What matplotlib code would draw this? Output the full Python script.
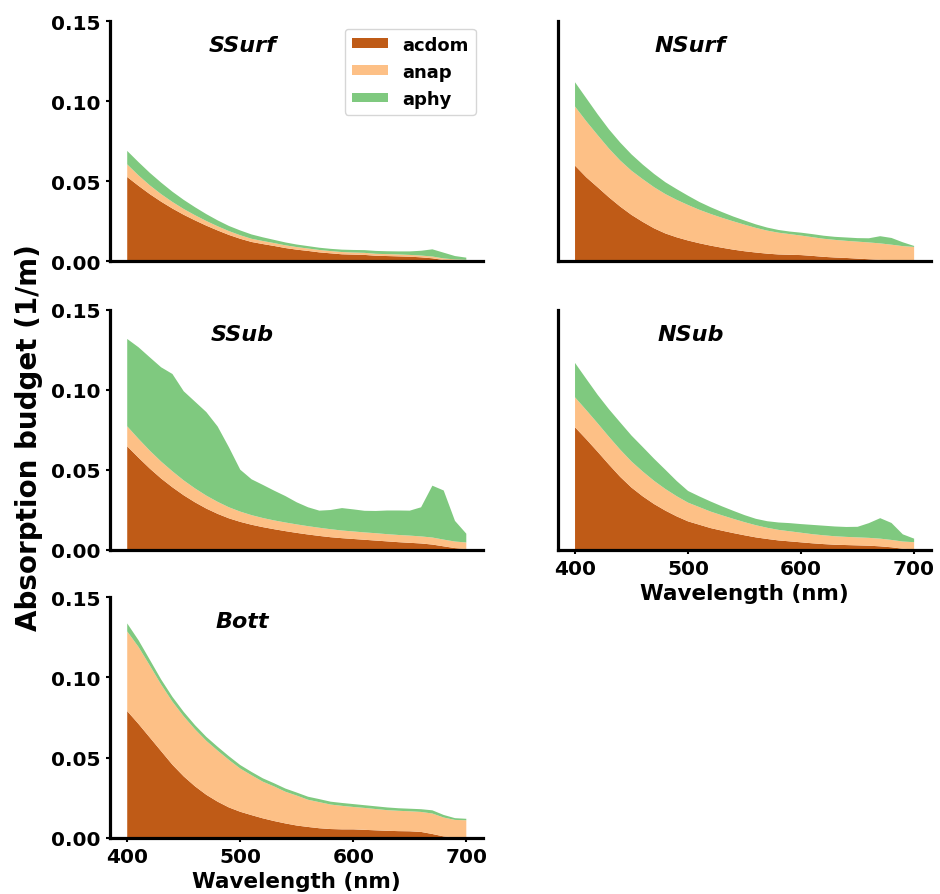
import matplotlib
matplotlib.use('Agg')
import matplotlib.pyplot as plt
import numpy as np

plt.rcParams['font.family'] = ['DejaVu Sans']
plt.rcParams['font.weight'] = 'bold'

# ---- data (10 nm steps) ----
wavelength = np.arange(400, 701, 10)

ssurf_acdom = [0.0527, 0.0472, 0.0420, 0.0373, 0.0330, 0.0291, 0.0256, 0.0223, 0.0193, 0.0165, 0.0141,
               0.0121, 0.0108, 0.0096, 0.0083, 0.0073, 0.0065, 0.0056, 0.0050, 0.0044, 0.0042,
               0.0040, 0.0035, 0.0033, 0.0031, 0.0029, 0.0025, 0.0019, 0.0008, 0.0002, 0.0000]
ssurf_anap = [0.0079, 0.0065, 0.0055, 0.0047, 0.0041, 0.0036, 0.0032, 0.0029, 0.0026, 0.0024, 0.0022,
              0.0020, 0.0019, 0.0018, 0.0017, 0.0016, 0.0015, 0.0015, 0.0014, 0.0014, 0.0013,
              0.0013, 0.0012, 0.0012, 0.0012, 0.0011, 0.0011, 0.0011, 0.0010, 0.0010, 0.0010]
ssurf_aphy = [0.0084, 0.0083, 0.0078, 0.0072, 0.0064, 0.0057, 0.0050, 0.0043, 0.0037, 0.0032, 0.0030,
              0.0027, 0.0023, 0.0020, 0.0018, 0.0016, 0.0015, 0.0014, 0.0014, 0.0015, 0.0016,
              0.0017, 0.0018, 0.0018, 0.0019, 0.0022, 0.0030, 0.0045, 0.0036, 0.0021, 0.0013]

nsurf_acdom = [0.0598, 0.0525, 0.0463, 0.0400, 0.0342, 0.0290, 0.0246, 0.0206, 0.0174, 0.0150, 0.0130,
               0.0113, 0.0098, 0.0085, 0.0073, 0.0063, 0.0055, 0.0048, 0.0043, 0.0041, 0.0039,
               0.0034, 0.0028, 0.0024, 0.0021, 0.0017, 0.0013, 0.0009, 0.0005, 0.0002, 0.0000]
nsurf_anap = [0.0369, 0.0350, 0.0326, 0.0305, 0.0288, 0.0276, 0.0267, 0.0257, 0.0246, 0.0234, 0.0222,
              0.0209, 0.0198, 0.0187, 0.0177, 0.0166, 0.0154, 0.0144, 0.0136, 0.0129, 0.0122,
              0.0117, 0.0113, 0.0110, 0.0107, 0.0106, 0.0105, 0.0103, 0.0099, 0.0093, 0.0090]
nsurf_aphy = [0.0152, 0.0144, 0.0130, 0.0120, 0.0112, 0.0102, 0.0091, 0.0083, 0.0074, 0.0067, 0.0058,
              0.0049, 0.0042, 0.0036, 0.0030, 0.0026, 0.0022, 0.0019, 0.0017, 0.0016, 0.0018,
              0.0019, 0.0019, 0.0019, 0.0021, 0.0022, 0.0026, 0.0045, 0.0042, 0.0024, 0.0006]

ssub_acdom = [0.0646, 0.0575, 0.0507, 0.0445, 0.0390, 0.0340, 0.0296, 0.0257, 0.0224, 0.0196, 0.0174,
              0.0156, 0.0141, 0.0128, 0.0116, 0.0105, 0.0095, 0.0086, 0.0078, 0.0072, 0.0067,
              0.0062, 0.0057, 0.0052, 0.0047, 0.0043, 0.0039, 0.0032, 0.0021, 0.0010, 0.0004]
ssub_anap = [0.0125, 0.0118, 0.0112, 0.0106, 0.0100, 0.0093, 0.0087, 0.0081, 0.0075, 0.0069, 0.0064,
             0.0060, 0.0057, 0.0055, 0.0054, 0.0053, 0.0052, 0.0051, 0.0050, 0.0048, 0.0047,
             0.0046, 0.0046, 0.0045, 0.0045, 0.0045, 0.0044, 0.0044, 0.0042, 0.0041, 0.0041]
ssub_aphy = [0.0546, 0.0572, 0.0583, 0.0589, 0.0608, 0.0557, 0.0542, 0.0522, 0.0471, 0.0375, 0.0262,
             0.0224, 0.0207, 0.0186, 0.0165, 0.0138, 0.0118, 0.0107, 0.0120, 0.0140, 0.0138,
             0.0135, 0.0139, 0.0148, 0.0153, 0.0156, 0.0182, 0.0324, 0.0307, 0.0129, 0.0055]

nsub_acdom = [0.0765, 0.0690, 0.0612, 0.0532, 0.0455, 0.0388, 0.0333, 0.0285, 0.0244, 0.0208, 0.0177,
              0.0156, 0.0135, 0.0119, 0.0104, 0.0090, 0.0077, 0.0067, 0.0058, 0.0052, 0.0046,
              0.0040, 0.0035, 0.0031, 0.0029, 0.0027, 0.0025, 0.0021, 0.0015, 0.0006, 0.0002]
nsub_anap = [0.0187, 0.0182, 0.0178, 0.0174, 0.0170, 0.0163, 0.0155, 0.0145, 0.0135, 0.0126, 0.0117,
             0.0110, 0.0103, 0.0096, 0.0089, 0.0082, 0.0076, 0.0070, 0.0066, 0.0063, 0.0060,
             0.0057, 0.0055, 0.0053, 0.0051, 0.0050, 0.0049, 0.0048, 0.0046, 0.0045, 0.0045]
nsub_aphy = [0.0215, 0.0195, 0.0178, 0.0172, 0.0170, 0.0162, 0.0153, 0.0138, 0.0120, 0.0095, 0.0073,
             0.0067, 0.0063, 0.0056, 0.0050, 0.0044, 0.0040, 0.0041, 0.0046, 0.0051, 0.0054,
             0.0058, 0.0060, 0.0061, 0.0062, 0.0066, 0.0092, 0.0128, 0.0106, 0.0045, 0.0022]

bott_acdom = [0.0790, 0.0710, 0.0625, 0.0540, 0.0455, 0.0382, 0.0320, 0.0267, 0.0224, 0.0188, 0.0161,
              0.0140, 0.0120, 0.0103, 0.0088, 0.0075, 0.0066, 0.0058, 0.0053, 0.0051, 0.0051,
              0.0048, 0.0045, 0.0042, 0.0040, 0.0039, 0.0035, 0.0022, 0.0007, 0.0000, 0.0000]
bott_anap = [0.0498, 0.0481, 0.0450, 0.0416, 0.0394, 0.0375, 0.0356, 0.0337, 0.0319, 0.0297, 0.0270,
             0.0249, 0.0229, 0.0216, 0.0198, 0.0187, 0.0170, 0.0163, 0.0153, 0.0147, 0.0140,
             0.0137, 0.0133, 0.0129, 0.0127, 0.0125, 0.0125, 0.0128, 0.0118, 0.0110, 0.0108]
bott_aphy = [0.0050, 0.0042, 0.0036, 0.0032, 0.0030, 0.0028, 0.0026, 0.0025, 0.0024, 0.0023, 0.0022,
             0.0021, 0.0021, 0.0020, 0.0020, 0.0019, 0.0019, 0.0019, 0.0018, 0.0018, 0.0018,
             0.0017, 0.0017, 0.0017, 0.0016, 0.0016, 0.0017, 0.0020, 0.0016, 0.0011, 0.0009]

components = ['acdom', 'anap', 'aphy']
colors = ['#bf5b17', '#fdc086', '#7fc97f']

# (name, data, column, row)
panels = [
    ('SSurf', (ssurf_acdom, ssurf_anap, ssurf_aphy), 0, 0),
    ('NSurf', (nsurf_acdom, nsurf_anap, nsurf_aphy), 1, 0),
    ('SSub', (ssub_acdom, ssub_anap, ssub_aphy), 0, 1),
    ('NSub', (nsub_acdom, nsub_anap, nsub_aphy), 1, 1),
    ('Bott', (bott_acdom, bott_anap, bott_aphy), 0, 2),
]

fig = plt.figure(figsize=(9.4, 8.95), dpi=100)

col_left = [0.1167, 0.5931]
row_bottom = [0.7069, 0.3847, 0.0631]
ax_w, ax_h = 0.3974, 0.2682

for name, data, col, row in panels:
    ax = fig.add_axes([col_left[col], row_bottom[row], ax_w, ax_h])
    ax.stackplot(wavelength, *data, colors=colors, labels=components, linewidth=0)
    ax.set_xlim(384.5, 715)
    ax.set_ylim(0, 0.15)
    ax.set_xticks([400, 500, 600, 700])
    ax.set_yticks([0.0, 0.05, 0.10, 0.15])
    ax.set_yticklabels(['0.00', '0.05', '0.10', '0.15'])
    for s in ['top', 'right']:
        ax.spines[s].set_visible(False)
    for s in ['left', 'bottom']:
        ax.spines[s].set_linewidth(2.3)
    ax.tick_params(labelsize=14.5, width=1.5, length=3)
    bottom_panel = (col == 0 and row == 2) or (col == 1 and row == 1)
    if not bottom_panel:
        ax.tick_params(axis='x', bottom=False, labelbottom=False)
    else:
        ax.set_xlabel('Wavelength (nm)', fontsize=15.5, fontweight='bold', labelpad=4)
    if col == 1:
        ax.tick_params(axis='y', left=False, labelleft=False)
    ax.text(502, 0.135, name, fontsize=16, fontweight='bold', fontstyle='italic',
            ha='center', va='center')
    if name == 'SSurf':
        ax.legend(loc='upper right', handleheight=0.45,
                  prop={'weight': 'bold', 'size': 13}, borderaxespad=0.4)

fig.text(0.031, 0.511, 'Absorption budget (1/m)', rotation=90, fontsize=20,
         fontweight='bold', ha='center', va='center')

fig.savefig('out.png', dpi=100)
